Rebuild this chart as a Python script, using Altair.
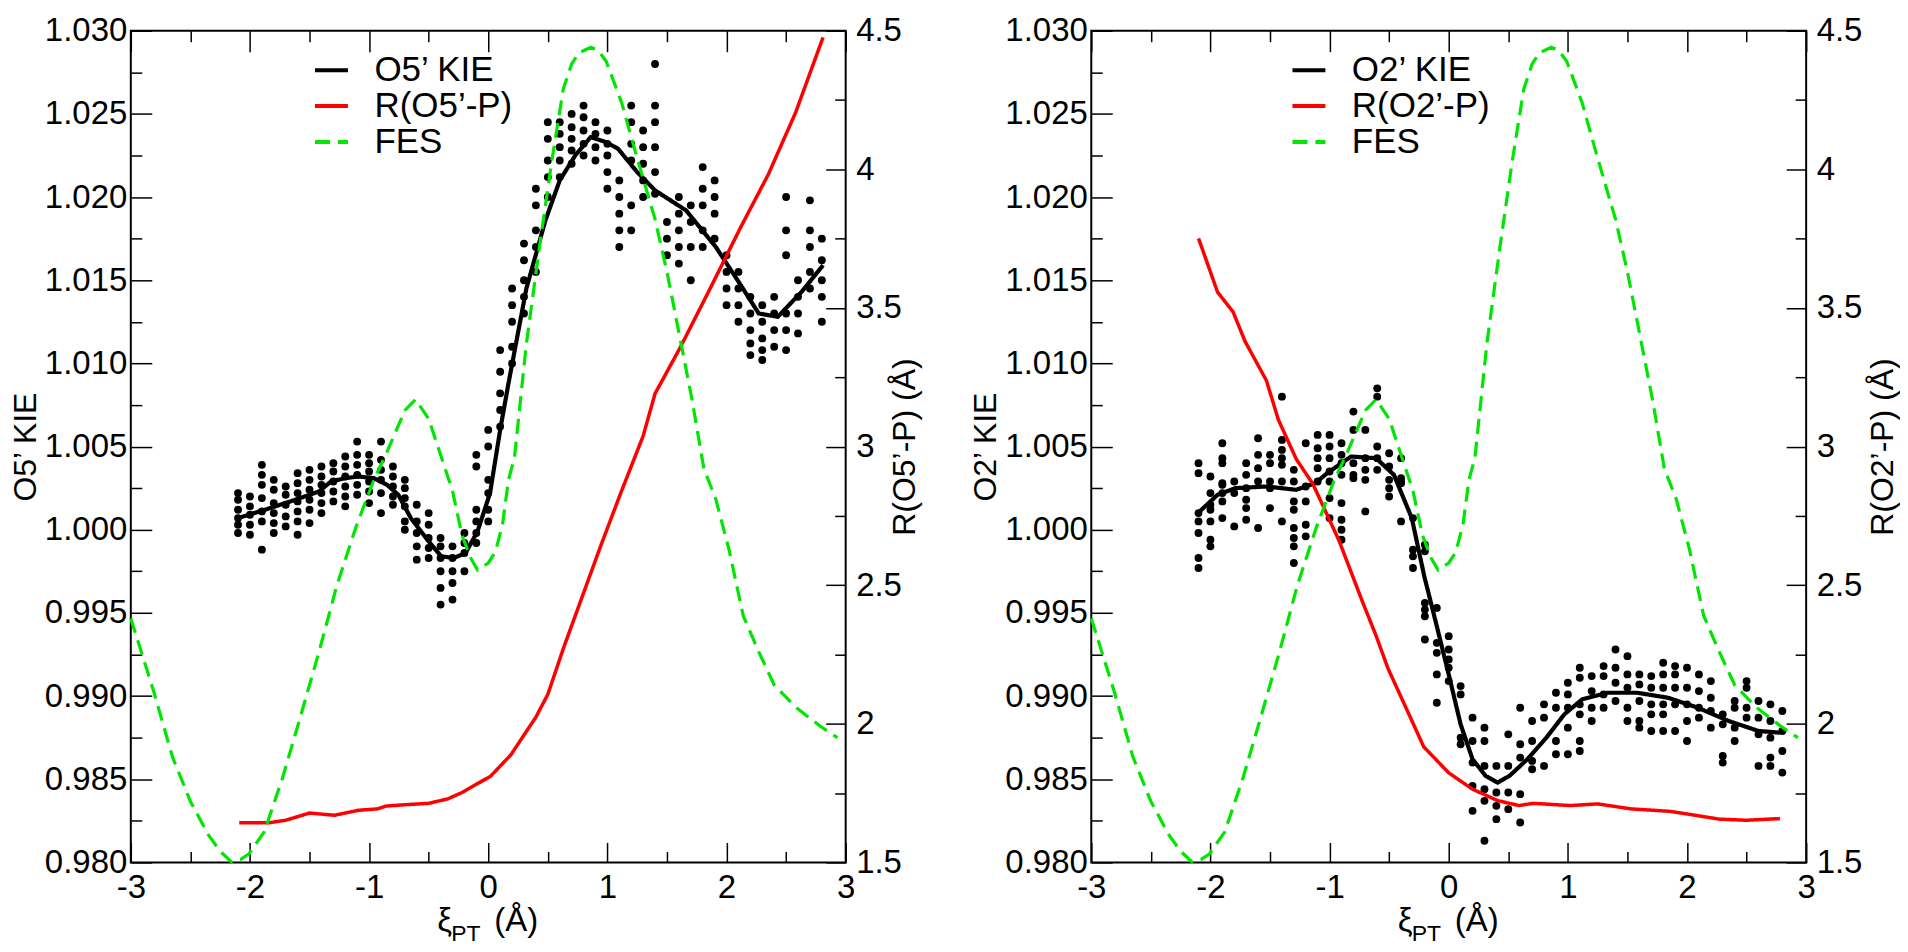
import altair as alt
import pandas as pd

FONT = "Liberation Sans"
W, H = 716, 833

# ---------------- tick values ----------------
X_MAJOR = [-3, -2, -1, 0, 1, 2, 3]
X_MINOR = [-2.5, -1.5, -0.5, 0.5, 1.5, 2.5]
KIE_MAJOR = [0.980, 0.985, 0.990, 0.995, 1.000, 1.005, 1.010, 1.015, 1.020, 1.025, 1.030]
KIE_MINOR = [0.9825, 0.9875, 0.9925, 0.9975, 1.0025, 1.0075, 1.0125, 1.0175, 1.0225, 1.0275]
R_MAJOR = [1.5, 2.0, 2.5, 3.0, 3.5, 4.0, 4.5]
R_MINOR = [1.75, 2.25, 2.75, 3.25, 3.75, 4.25]

# ---------------- FES (same curve in both panels, right-axis units) ----------------
FES_X = [-3.0, -2.81, -2.65, -2.50, -2.35, -2.25, -2.15, -2.08, -2.01, -1.88, -1.73, -1.58, -1.42,
         -1.27, -1.11, -0.96, -0.86, -0.70, -0.61, -0.50, -0.40, -0.30, -0.22, -0.15, -0.09, 0.00,
         0.06, 0.12, 0.17, 0.22, 0.32, 0.43, 0.53, 0.63, 0.70, 0.76, 0.86, 0.92, 0.99, 1.12, 1.25,
         1.40, 1.50, 1.61, 1.71, 1.81, 1.91, 2.02, 2.14, 2.27, 2.40, 2.58, 2.79, 2.93]
FES_R = [2.38, 2.12, 1.88, 1.72, 1.60, 1.54, 1.50, 1.51, 1.53, 1.61, 1.80, 2.02, 2.26,
         2.50, 2.71, 2.88, 2.97, 3.13, 3.17, 3.10, 2.97, 2.84, 2.68, 2.60, 2.555, 2.58,
         2.62, 2.72, 2.88, 2.96, 3.37, 3.72, 4.02, 4.29, 4.38, 4.42, 4.44, 4.43, 4.39, 4.24, 4.04,
         3.82, 3.63, 3.39, 3.17, 2.92, 2.81, 2.63, 2.39, 2.26, 2.14, 2.06, 1.99, 1.95]

# ---------------- O5' panel ----------------
O5_KIE_X = [-2.10, -1.83, -1.62, -1.42, -1.32, -1.20, -1.09, -0.96, -0.85, -0.755, -0.65, -0.50,
            -0.395, -0.29, -0.19, -0.09, 0.015, 0.10, 0.17, 0.32, 0.48, 0.60, 0.73, 0.86, 0.99,
            1.09, 1.25, 1.40, 1.66, 1.91, 2.12, 2.27, 2.43, 2.63, 2.81]
O5_KIE = [1.0007, 1.0013, 1.0018, 1.0023, 1.0029, 1.0031, 1.0032, 1.0031, 1.0027, 1.0021, 1.0007,
          0.9993, 0.9984, 0.9983, 0.9986, 0.9999, 1.0022, 1.0060, 1.0088, 1.0145, 1.0186, 1.0210,
          1.0225, 1.0236, 1.0233, 1.0229, 1.0215, 1.0204, 1.0192, 1.0170, 1.0147, 1.0130, 1.0128,
          1.0143, 1.0159]
O5_R_X = [-2.09, -1.84, -1.70, -1.50, -1.29, -1.09, -0.93, -0.86, -0.70, -0.50, -0.34, -0.22,
          0.02, 0.19, 0.40, 0.50, 0.63, 0.79, 0.94, 1.11, 1.30, 1.40, 1.61, 1.86, 2.12, 2.35,
          2.58, 2.81]
O5_R = [1.643, 1.643, 1.652, 1.678, 1.670, 1.688, 1.693, 1.703, 1.708, 1.713, 1.729, 1.752,
        1.811, 1.888, 2.024, 2.106, 2.271, 2.46, 2.637, 2.83, 3.038, 3.191, 3.356, 3.568, 3.792,
        3.981, 4.205, 4.476]
O5_SCATTER = [
    (-2.1, [1.0022, 1.0018, 1.0012, 1.0007, 1.0003, 0.9998]),
    (-2.0, [1.0020, 1.0014, 1.0009, 1.0003, 0.9997]),
    (-1.9, [1.0039, 1.0033, 1.0027, 1.0019, 1.0011, 1.0005, 0.9988]),
    (-1.8, [1.0030, 1.0024, 1.0016, 1.0010, 1.0004, 0.9998]),
    (-1.7, [1.0026, 1.0021, 1.0015, 1.0008, 1.0002]),
    (-1.6, [1.0034, 1.0028, 1.0022, 1.0017, 1.0011, 1.0005, 0.9997]),
    (-1.5, [1.0036, 1.0030, 1.0024, 1.0018, 1.0012, 1.0004]),
    (-1.4, [1.0038, 1.0032, 1.0027, 1.0022, 1.0016, 1.0010]),
    (-1.3, [1.0040, 1.0035, 1.0029, 1.0023, 1.0017]),
    (-1.2, [1.0044, 1.0038, 1.0032, 1.0026, 1.0020, 1.0014]),
    (-1.1, [1.0053, 1.0045, 1.0039, 1.0033, 1.0027, 1.0021]),
    (-1.0, [1.0045, 1.0040, 1.0035, 1.0029, 1.0023, 1.0016]),
    (-0.9, [1.0053, 1.0042, 1.0036, 1.0030, 1.0022, 1.0010]),
    (-0.8, [1.0038, 1.0032, 1.0026, 1.0020, 1.0015]),
    (-0.7, [1.0030, 1.0025, 1.0019, 1.0014, 1.0005, 1.0000]),
    (-0.6, [1.0015, 1.0005, 0.9998, 0.9990, 0.9982]),
    (-0.5, [1.0010, 1.0003, 0.9995, 0.9989, 0.9983]),
    (-0.4, [0.9995, 0.9990, 0.9983, 0.9975, 0.9965, 0.9955]),
    (-0.3, [0.9990, 0.9983, 0.9975, 0.9968, 0.9958]),
    (-0.2, [0.9998, 0.9992, 0.9986, 0.9975]),
    (-0.1, [1.0045, 1.0038, 1.0012, 1.0005, 0.9998, 0.9992]),
    (0.0, [1.0060, 1.0050, 1.0030, 1.0022, 1.0012, 1.0005]),
    (0.1, [1.0108, 1.0095, 1.0082, 1.0072, 1.0062]),
    (0.2, [1.0145, 1.0135, 1.0125, 1.0110, 1.0100]),
    (0.3, [1.0172, 1.0162, 1.0150, 1.0140, 1.0130]),
    (0.4, [1.0205, 1.0195, 1.0180, 1.0170, 1.0155]),
    (0.5, [1.0245, 1.0235, 1.0222, 1.0212, 1.0200]),
    (0.6, [1.0245, 1.0238, 1.0230, 1.0222, 1.0212]),
    (0.7, [1.0250, 1.0242, 1.0235, 1.0228, 1.0220]),
    (0.8, [1.0255, 1.0248, 1.0240, 1.0232, 1.0225]),
    (0.9, [1.0245, 1.0238, 1.0230, 1.0222]),
    (1.0, [1.0240, 1.0232, 1.0225, 1.0215, 1.0205]),
    (1.1, [1.0210, 1.0200, 1.0190, 1.0180, 1.0170]),
    (1.2, [1.0255, 1.0245, 1.0232, 1.0222, 1.0195, 1.0180]),
    (1.3, [1.0240, 1.0230, 1.0220, 1.0210, 1.0200]),
    (1.4, [1.0280, 1.0255, 1.0245, 1.0230, 1.0215, 1.0202]),
    (1.5, [1.0185, 1.0175, 1.0165]),
    (1.6, [1.0200, 1.0190, 1.0180, 1.0170, 1.0160]),
    (1.7, [1.0195, 1.0185, 1.0170, 1.0150]),
    (1.8, [1.0218, 1.0205, 1.0195, 1.0180, 1.0170]),
    (1.9, [1.0210, 1.0200, 1.0190, 1.0175]),
    (2.0, [1.0165, 1.0155, 1.0145, 1.0135]),
    (2.1, [1.0155, 1.0145, 1.0135, 1.0125]),
    (2.2, [1.0140, 1.0130, 1.0120, 1.0112, 1.0105]),
    (2.3, [1.0135, 1.0125, 1.0115, 1.0108, 1.0102]),
    (2.4, [1.0140, 1.0130, 1.0120, 1.0110]),
    (2.5, [1.0200, 1.0180, 1.0165, 1.0130, 1.0120, 1.0108]),
    (2.6, [1.0150, 1.0140, 1.0130, 1.0118]),
    (2.7, [1.0198, 1.0180, 1.0170, 1.0155, 1.0145]),
    (2.8, [1.0175, 1.0162, 1.0150, 1.0140, 1.0125]),
]

# ---------------- O2' panel ----------------
O2_KIE_X = [-2.12, -1.94, -1.79, -1.53, -1.28, -1.12, -1.02, -0.82, -0.61, -0.46, -0.31, -0.205,
            -0.10, 0.0, 0.10, 0.20, 0.31, 0.41, 0.51, 0.66, 0.82, 0.97, 1.12, 1.33, 1.58, 1.84,
            2.09, 2.35, 2.60, 2.78]
O2_KIE = [1.0009, 1.0021, 1.0025, 1.0026, 1.0024, 1.0028, 1.0034, 1.0044, 1.0043, 1.0033, 1.0007,
          0.9972, 0.9942, 0.9913, 0.9883, 0.9862, 0.9852, 0.9848, 0.9852, 0.9862, 0.9875, 0.9889,
          0.9898, 0.9902, 0.9902, 0.9899, 0.9893, 0.9885, 0.9879, 0.9878]
O2_R_X = [-2.10, -1.94, -1.81, -1.71, -1.53, -1.43, -1.28, -1.14, -0.92, -0.72, -0.61, -0.51,
          -0.36, -0.21, 0.0, 0.20, 0.41, 0.59, 0.71, 1.02, 1.25, 1.53, 1.86, 2.04, 2.27, 2.50, 2.78]
O2_R = [3.751, 3.557, 3.486, 3.38, 3.238, 3.097, 2.955, 2.865, 2.660, 2.436, 2.318, 2.20,
        2.059, 1.917, 1.823, 1.764, 1.723, 1.705, 1.713, 1.705, 1.711, 1.693, 1.684, 1.672,
        1.656, 1.652, 1.658]
O2_SCATTER = [
    (-2.1, [1.0040, 1.0034, 1.0010, 1.0005, 0.9998, 0.9983, 0.9977]),
    (-2.0, [1.0032, 1.0022, 1.0015, 1.0012, 1.0005, 0.9994, 0.9990]),
    (-1.9, [1.0052, 1.0043, 1.0040, 1.0028, 1.0027, 1.0022, 1.0017, 1.0007]),
    (-1.8, [1.0029, 1.0022, 1.0002]),
    (-1.7, [1.0040, 1.0033, 1.0025, 1.0018, 1.0013, 1.0006]),
    (-1.6, [1.0055, 1.0045, 1.0037, 1.0029, 1.0001]),
    (-1.5, [1.0045, 1.0040, 1.0029, 1.0025, 1.0013]),
    (-1.4, [1.0080, 1.0054, 1.0048, 1.0043, 1.0039, 1.0029, 1.0005]),
    (-1.3, [1.0036, 1.0029, 1.0017, 1.0012, 1.0001, 0.9995, 0.9990, 0.9980]),
    (-1.2, [1.0052, 1.0026, 1.0017, 1.0003, 0.9996]),
    (-1.1, [1.0057, 1.0049, 1.0043, 1.0037, 1.0029]),
    (-1.0, [1.0057, 1.0050, 1.0043, 1.0035, 1.0029, 1.0019, 1.0007]),
    (-0.9, [1.0052, 1.0045, 1.0040, 1.0033, 1.0016, 1.0006, 1.0000, 0.9994]),
    (-0.8, [1.0071, 1.0060, 1.0040, 1.0033, 1.0031]),
    (-0.7, [1.0060, 1.0043, 1.0036, 1.0030, 1.0011]),
    (-0.6, [1.0085, 1.0080, 1.0050, 1.0043, 1.0036]),
    (-0.5, [1.0046, 1.0038, 1.0030, 1.0025, 1.0020]),
    (-0.4, [1.0043, 1.0031, 1.0029, 1.0028, 1.0005]),
    (-0.3, [1.0007, 0.9988, 0.9984, 0.9977]),
    (-0.2, [0.9991, 0.9987, 0.9956, 0.9952, 0.9948, 0.9934]),
    (-0.1, [0.9953, 0.9932, 0.9926, 0.9913, 0.9896]),
    (0.0, [0.9936, 0.9928, 0.9922, 0.9917, 0.9909]),
    (0.1, [0.9906, 0.9901, 0.9875, 0.9871]),
    (0.2, [0.9887, 0.9873, 0.9860, 0.9846, 0.9831]),
    (0.3, [0.9881, 0.9873, 0.9858, 0.9844, 0.9837, 0.9813]),
    (0.4, [0.9858, 0.9842, 0.9834, 0.9826]),
    (0.5, [0.9877, 0.9858, 0.9842, 0.9832]),
    (0.6, [0.9893, 0.9871, 0.9863, 0.9841, 0.9824]),
    (0.7, [0.9885, 0.9873, 0.9861, 0.9856]),
    (0.8, [0.9895, 0.9887, 0.9858]),
    (0.9, [0.9902, 0.9893, 0.9873, 0.9865]),
    (1.0, [0.9908, 0.9901, 0.9893, 0.9881, 0.9865]),
    (1.1, [0.9917, 0.9911, 0.9895, 0.9889, 0.9873, 0.9867]),
    (1.2, [0.9912, 0.9903, 0.9893, 0.9885]),
    (1.3, [0.9918, 0.9912, 0.9901, 0.9893]),
    (1.4, [0.9928, 0.9917, 0.9908, 0.9897]),
    (1.5, [0.9924, 0.9913, 0.9905, 0.9893, 0.9885]),
    (1.6, [0.9913, 0.9907, 0.9897, 0.9885, 0.9881]),
    (1.7, [0.9912, 0.9905, 0.9895, 0.9889, 0.9879]),
    (1.8, [0.9920, 0.9913, 0.9905, 0.9895, 0.9889, 0.9879]),
    (1.9, [0.9918, 0.9913, 0.9905, 0.9895, 0.9879]),
    (2.0, [0.9917, 0.9905, 0.9895, 0.9885, 0.9873]),
    (2.1, [0.9913, 0.9903, 0.9893, 0.9887]),
    (2.2, [0.9909, 0.9899, 0.9891, 0.9881]),
    (2.3, [0.9889, 0.9883, 0.9864, 0.9860]),
    (2.4, [0.9897, 0.9893, 0.9881, 0.9873]),
    (2.5, [0.9909, 0.9905, 0.9893, 0.9887]),
    (2.6, [0.9897, 0.9887, 0.9877, 0.9858]),
    (2.7, [0.9895, 0.9885, 0.9875, 0.9863, 0.9858]),
    (2.8, [0.9891, 0.9879, 0.9867, 0.9854]),
]

BLACK, RED, GREEN = "#000000", "#ff0000", "#00e600"
TICK_FS = 33


def scatter_frame(cols):
    xs, ys = [], []
    for x, vals in cols:
        for v in vals:
            xs.append(x)
            ys.append(v)
    return pd.DataFrame({"x": xs, "kie": ys})


def tick_axis(orient, values, size, labels=False, **kw):
    base = dict(orient=orient, values=values, offset=-size, tickSize=size, tickWidth=1.5,
                tickColor="black", domain=False, grid=False, labels=labels, labelOverlap=False,
                labelFlush=False, labelFont=FONT, labelFontSize=TICK_FS, labelColor="black")
    base.update(kw)
    return alt.Axis(**base)


def panel(name, kie_x, kie_y, r_x, r_y, scatter_cols, legend_x, rtitle_pad):
    kie_label = f"{name} KIE"
    r_label = f"R({name}-P)"
    domain = [kie_label, r_label, "FES"]
    legend = alt.Legend(orient="none", legendX=legend_x, legendY=22, title=None,
                        symbolType="M-1.57,0L1.57,0", symbolSize=441, symbolStrokeWidth=4,
                        labelFont=FONT, labelFontSize=35, labelColor="black",
                        labelOffset=25.5, rowPadding=0, padding=0, labelLimit=400)
    color = alt.Color("series:N", scale=alt.Scale(domain=domain, range=[BLACK, RED, GREEN]),
                      legend=legend)
    dash = alt.StrokeDash("series:N",
                          scale=alt.Scale(domain=domain, range=[[1, 0], [1, 0], [15, 8]]),
                          legend=legend)

    xs = alt.Scale(domain=[-3, 3], nice=False, zero=False)
    ks = alt.Scale(domain=[0.98, 1.03], nice=False, zero=False)
    rs = alt.Scale(domain=[1.5, 4.5], nice=False, zero=False)

    ax_bottom = tick_axis("bottom", X_MAJOR, 20, labels=True, labelPadding=9,
                          labelExpr="datum.value + ''", title=None)
    ax_bottom_minor = tick_axis("bottom", X_MINOR, 11, title=None)
    ax_top = tick_axis("top", X_MAJOR, 21, title=None)
    ax_top_minor = tick_axis("top", X_MINOR, 11, title=None)
    ax_left = tick_axis("left", KIE_MAJOR, 21, labels=True, format=".3f", labelPadding=4,
                        title=kie_label, titleFont=FONT, titleFontSize=32,
                        titleFontWeight="normal", titleColor="black", titlePadding=2)
    ax_left_minor = tick_axis("left", KIE_MINOR, 11, title=None)
    ax_right = tick_axis("right", R_MAJOR, 20, labels=True, labelPadding=10,
                         labelExpr="datum.value + ''",
                         title=f"R({name}-P) (Å)", titleFont=FONT, titleFontSize=32,
                         titleFontWeight="normal", titleColor="black", titlePadding=rtitle_pad,
                         titleAngle=270)
    ax_right_minor = tick_axis("right", R_MINOR, 11, title=None)

    df_sc = scatter_frame(scatter_cols)
    df_k = pd.DataFrame({"x": kie_x, "kie": kie_y, "series": kie_label})
    df_r = pd.DataFrame({"x": r_x, "r": r_y, "series": r_label})
    df_f = pd.DataFrame({"x": FES_X, "r": FES_R, "series": "FES"})

    pts = alt.Chart(df_sc).mark_circle(size=62, color="black", opacity=1).encode(
        x=alt.X("x:Q", scale=xs, axis=ax_bottom),
        y=alt.Y("kie:Q", scale=ks, axis=ax_left),
    )
    kline = alt.Chart(df_k).mark_line(strokeWidth=4.2).encode(
        x=alt.X("x:Q", scale=xs, axis=ax_bottom_minor),
        y=alt.Y("kie:Q", scale=ks, axis=ax_left_minor),
        color=color, strokeDash=dash,
    )
    rline = alt.Chart(df_r).mark_line(strokeWidth=3.5).encode(
        x=alt.X("x:Q", scale=xs, axis=ax_top),
        y=alt.Y("r:Q", scale=rs, axis=ax_right),
        color=color, strokeDash=dash,
    )
    fes = alt.Chart(df_f).mark_line(strokeWidth=3.2).encode(
        x=alt.X("x:Q", scale=xs, axis=ax_top_minor),
        y=alt.Y("r:Q", scale=rs, axis=ax_right_minor),
        color=color, strokeDash=dash,
    )

    def txt(t, size, px, py):
        return alt.Chart(pd.DataFrame({"t": [t]})).mark_text(
            align="left", baseline="alphabetic", font=FONT, fontSize=size, color="black"
        ).encode(text="t:N", x=alt.value(px), y=alt.value(py))

    title_parts = [txt("ξ", 33, 307, H + 69), txt("PT", 23, 321, H + 79), txt("(Å)", 33, 364, H + 69)]

    return alt.layer(pts, kline, rline, fes, *title_parts).resolve_scale(
        x="independent", y="independent"
    ).resolve_axis(x="independent", y="independent").properties(width=W, height=H)


left = panel("O5’", O5_KIE_X, O5_KIE, O5_R_X, O5_R, O5_SCATTER, 183.5, 20)
right = panel("O2’", O2_KIE_X, O2_KIE, O2_R_X, O2_R, O2_SCATTER, 200.5, 38)

chart = alt.hconcat(left, right, spacing=47).resolve_scale(
    color="independent", strokeDash="independent"
).resolve_legend(color="independent", strokeDash="independent").properties(
    padding={"left": 0, "top": 5, "right": 0, "bottom": 0}
).configure(font=FONT).configure_view(stroke="black", strokeWidth=2)

chart.save("out.html", embed_options={"renderer": "svg", "actions": False})
